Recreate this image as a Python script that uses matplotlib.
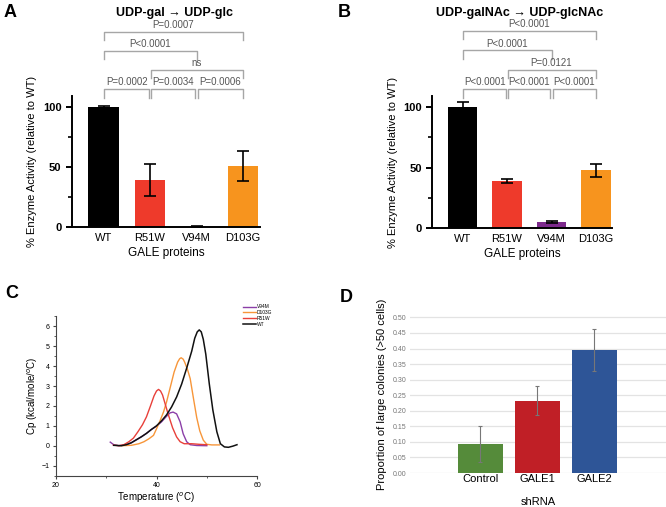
import matplotlib
matplotlib.use("Agg")
import matplotlib.pyplot as plt
from matplotlib.ticker import MultipleLocator
import numpy as np

plt.rcParams['font.family'] = ['Liberation Sans', 'DejaVu Sans']

# panels A / B
proteins = ['WT', 'R51W', 'V94M', 'D103G']
bar_colors = ['#000000', '#ee3a2b', '#7d2a8c', '#f7941e']
gal_vals = [100, 39.4, 0.5, 51.1]
gal_err = [1.0, 13.2, 0.5, 12.3]
galnac_vals = [100, 38.8, 5.0, 47.9]
galnac_err = [4.2, 1.6, 0.9, 5.5]

# (bar i, bar j, level, label)
gal_pvals = [(0, 1, 0, 'P=0.0002'), (1, 2, 0, 'P=0.0034'), (2, 3, 0, 'P=0.0006'),
             (1, 3, 1, 'ns'), (0, 2, 2, 'P<0.0001'), (0, 3, 3, 'P=0.0007')]
galnac_pvals = [(0, 1, 0, 'P<0.0001'), (1, 2, 0, 'P<0.0001'), (2, 3, 0, 'P<0.0001'),
                (1, 3, 1, 'P=0.0121'), (0, 2, 2, 'P<0.0001'), (0, 3, 3, 'P<0.0001')]

# panel C: DSC thermograms
wt_T = [31.5, 33, 34, 35, 36, 37, 38, 39, 40, 41, 42, 43, 44, 45, 46, 47, 47.6, 48.1,
        48.5, 48.9, 49.3, 49.8, 50.5, 51.2, 52, 52.7, 53.5, 54.3, 55.2, 56]
wt_cp = [0.02, 0.0, 0.05, 0.15, 0.3, 0.45, 0.62, 0.82, 1.0, 1.25, 1.55, 1.95, 2.45, 3.1,
         3.9, 4.75, 5.4, 5.72, 5.82, 5.72, 5.35, 4.6, 3.1, 1.8, 0.7, 0.1, -0.06, -0.08,
         -0.02, 0.05]
v94m_T = [30.8, 31.5, 32.5, 34, 35, 36, 37, 38, 39, 40, 41, 42, 42.7, 43.3, 44, 44.7,
          45.3, 46, 46.7, 48, 50]
v94m_cp = [0.18, 0.05, 0.0, 0.05, 0.15, 0.3, 0.45, 0.62, 0.82, 0.98, 1.2, 1.48, 1.65,
           1.69, 1.6, 1.2, 0.6, 0.2, 0.05, 0.01, 0.0]
r51w_T = [31.4, 32.5, 33.5, 34.5, 35.4, 36.3, 37.2, 38, 38.8, 39.5, 40, 40.4, 40.8, 41.2,
          42.3, 43.2, 44, 44.7, 45.5, 47, 48.5, 50]
r51w_cp = [0.03, 0.0, 0.05, 0.2, 0.38, 0.7, 1.05, 1.45, 2.0, 2.5, 2.75, 2.83, 2.75, 2.55,
           1.6, 0.9, 0.44, 0.2, 0.1, 0.1, 0.07, 0.05]
d103g_T = [33, 35, 36.5, 37.5, 38.5, 39.4, 40, 40.7, 41.4, 42, 42.8, 43.5, 44.2, 44.6,
           44.9, 45.3, 45.6, 46.2, 46.7, 47.4, 48, 48.6, 49.3, 50, 51, 52.5]
d103g_cp = [0.0, 0.02, 0.1, 0.2, 0.35, 0.52, 0.85, 1.25, 1.7, 2.2, 3.0, 3.7, 4.2, 4.37,
            4.42, 4.35, 4.2, 3.8, 3.37, 2.3, 1.41, 0.75, 0.28, 0.07, 0.04, 0.04]

# panel D
shrna = ['Control', 'GALE1', 'GALE2']
prop_vals = [0.093, 0.233, 0.395]
prop_err = [0.057, 0.048, 0.068]
shrna_colors = ['#558b3a', '#c01f26', '#2e5597']

fig = plt.figure(figsize=(6.66, 5.07), dpi=100)


def enzyme_panel(rect, vals, err, pvals, title, letter, title_x, letter_x):
    ax = fig.add_axes(rect)
    x = np.arange(len(proteins))
    ax.bar(x, vals, width=0.66, color=bar_colors)
    ax.errorbar(x, vals, yerr=err, fmt='none', ecolor='black', elinewidth=1.2,
                capsize=4, capthick=1.2)
    ax.set_ylim(0, 109)
    ax.set_xlim(-0.68, 3.36)
    ax.yaxis.set_major_locator(MultipleLocator(50))
    ax.yaxis.set_minor_locator(MultipleLocator(25))
    ax.spines['top'].set_visible(False)
    ax.spines['right'].set_visible(False)
    ax.spines['left'].set_linewidth(1.4)
    ax.spines['bottom'].set_linewidth(1.4)
    ax.tick_params(axis='y', which='major', width=1.4, length=4, labelsize=8)
    ax.tick_params(axis='y', which='minor', width=1.2, length=3)
    ax.tick_params(axis='x', length=0, labelsize=8, pad=4)
    for lab in ax.get_yticklabels():
        lab.set_fontweight('bold')
    ax.set_xticks(x)
    ax.set_xticklabels(proteins)
    ax.set_xlabel('GALE proteins', fontsize=8.5, labelpad=3)
    ax.set_ylabel('% Enzyme Activity (relative to WT)', fontsize=8, labelpad=4)
    levels = [115, 131, 147, 163]
    for i, j, lv, txt in pvals:
        y = levels[lv]
        x1 = x[i] + (0.03 if lv == 0 and i > 0 else 0)
        x2 = x[j] - (0.03 if lv == 0 and j < 3 else 0)
        if lv == 1:
            x1 += 0.03
        ax.plot([x1, x1, x2, x2], [y - 7, y, y, y - 7], color='#a6a6a6', lw=1,
                clip_on=False)
        ax.text((x[i] + x[j]) / 2, y + 1.5, txt, ha='center', va='bottom',
                fontsize=7, color='#555555')
    fig.text(title_x, 0.975, title, ha='center', va='center', fontsize=9,
             fontweight='bold')
    fig.text(letter_x, 0.975, letter, ha='left', va='center', fontsize=13,
             fontweight='bold')


enzyme_panel([0.108, 0.552, 0.282, 0.258], gal_vals, gal_err, gal_pvals,
             'UDP-gal \u2192 UDP-glc', 'A', 0.262, 0.006)
enzyme_panel([0.649, 0.550, 0.27, 0.260], galnac_vals, galnac_err, galnac_pvals,
             'UDP-galNAc \u2192 UDP-glcNAc', 'B', 0.78, 0.507)

# panel C
axc = fig.add_axes([0.084, 0.062, 0.302, 0.314])
axc.plot(v94m_T, v94m_cp, color='#8b3fa8', lw=1, label='V94M')
axc.plot(d103g_T, d103g_cp, color='#f7963a', lw=1, label='D103G')
axc.plot(r51w_T, r51w_cp, color='#e8403a', lw=1, label='R51W')
axc.plot(wt_T, wt_cp, color='#111111', lw=1.1, label='WT')
axc.set_xlim(20, 60)
axc.set_ylim(-1.5, 6.5)
axc.xaxis.set_major_locator(MultipleLocator(20))
axc.xaxis.set_minor_locator(MultipleLocator(10))
axc.yaxis.set_major_locator(MultipleLocator(1))
axc.yaxis.set_minor_locator(MultipleLocator(0.5))
axc.spines['top'].set_visible(False)
axc.spines['right'].set_visible(False)
for s in ['left', 'bottom']:
    axc.spines[s].set_color('#444444')
axc.tick_params(which='both', labelsize=5, color='#444444', length=2.5, pad=2)
axc.tick_params(which='minor', length=1.5)
axc.set_xlabel('Temperature ($^{o}$C)', fontsize=7, labelpad=1)
axc.set_ylabel('Cp (kcal/mole/$^{o}$C)', fontsize=7, labelpad=1)
axc.legend(loc='upper left', bbox_to_anchor=(0.92, 1.09), fontsize=3.5, frameon=False,
           handlelength=2.5, labelspacing=0.15, borderpad=0, handletextpad=0.3)
fig.text(0.008, 0.422, 'C', ha='left', va='center', fontsize=13, fontweight='bold')

# panel D
axd = fig.add_axes([0.616, 0.067, 0.384, 0.310])
xd = np.arange(len(shrna))
axd.bar(xd, prop_vals, width=0.79, color=shrna_colors, zorder=2)
axd.errorbar(xd, prop_vals, yerr=prop_err, fmt='none', ecolor='#777777',
             elinewidth=0.8, capsize=1.5, capthick=0.8, zorder=3)
axd.set_xlim(-1.23, 3.26)
axd.set_ylim(0, 0.505)
axd.yaxis.set_major_locator(MultipleLocator(0.05))
axd.yaxis.set_major_formatter(matplotlib.ticker.FormatStrFormatter('%.2f'))
axd.grid(axis='y', color='#e3e3e3', lw=0.9, zorder=0)
for s in axd.spines.values():
    s.set_visible(False)
axd.tick_params(axis='y', length=0, labelsize=5, labelcolor='#777777', pad=3)
axd.tick_params(axis='x', length=0, labelsize=8, pad=1)
axd.set_xticks(xd)
axd.set_xticklabels(shrna)
axd.set_xlabel('shRNA', fontsize=8, labelpad=9)
axd.set_ylabel('Proportion of large colonies (>50 cells)', fontsize=8, labelpad=4)
fig.text(0.51, 0.414, 'D', ha='left', va='center', fontsize=13, fontweight='bold')

fig.savefig('out.png', dpi=100)
